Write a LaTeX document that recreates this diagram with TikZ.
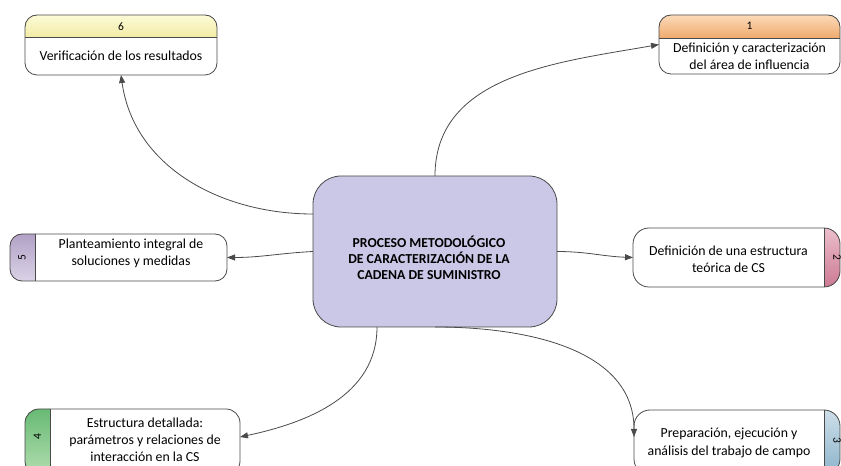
\documentclass[tikz,border=0pt]{standalone}
\usepackage{fontspec}
\setmainfont{Carlito}
\usetikzlibrary{calc,arrows.meta}

\definecolor{edge}{HTML}{4A4A4A}
\definecolor{hubfill}{RGB}{203,199,230}

\begin{document}
\begin{tikzpicture}[x=1pt,y=1pt,
  shell/.style={rectangle, inner sep=0pt, outer sep=0pt},
  outline/.style={draw=edge, line width=0.8pt},
  label/.style={align=center, font=\fontsize{13.8}{17.2}\selectfont, text=black},
  tag/.style={font=\fontsize{11.5}{13}\selectfont, text=black},
  conn/.style={draw=edge, line width=0.8pt, -{Triangle[length=8pt,width=6pt]}}
]
\useasboundingbox (0,0) rectangle (841,466);

% ---------- central node ----------
\node[shell, minimum width=244pt, minimum height=151pt] (c) at (435,214.5) {};
\draw[outline, fill=hubfill, rounded corners=28pt] (c.north west) rectangle (c.south east);
\node[align=center, font=\bfseries\fontsize{13.7}{15.8}\selectfont] at (429,208)
  {PROCESO METODOLÓGICO\\DE CARACTERIZACIÓN DE LA\\CADENA DE SUMINISTRO};

% ---------- step 6 (header on top) ----------
\node[shell, minimum width=192pt, minimum height=60pt] (b6) at (121,421) {};
\fill[white, rounded corners=12pt] (b6.north west) rectangle (b6.south east);
\begin{scope}
  \clip[rounded corners=12pt] (b6.north west) rectangle (b6.south east);
  \fill[top color={rgb,255:red,252;green,250;blue,215}, bottom color={rgb,255:red,242;green,236;blue,165}]
    (b6.north west) rectangle ($(b6.north east)+(0,-22)$);
\end{scope}
\draw[outline] ($(b6.north west)+(0,-22)$) -- ($(b6.north east)+(0,-22)$);
\draw[outline, rounded corners=12pt] (b6.north west) rectangle (b6.south east);
\node[tag] at (121,439) {6};
\node[label] at (121,410) {Verificación de los resultados};

% ---------- step 1 (header on top) ----------
\node[shell, minimum width=181pt, minimum height=59pt] (b1) at (749.5,421.5) {};
\fill[white, rounded corners=12pt] (b1.north west) rectangle (b1.south east);
\begin{scope}
  \clip[rounded corners=12pt] (b1.north west) rectangle (b1.south east);
  \fill[top color={rgb,255:red,251;green,218;blue,185}, bottom color={rgb,255:red,240;green,170;blue,110}]
    (b1.north west) rectangle ($(b1.north east)+(0,-23)$);
\end{scope}
\draw[outline] ($(b1.north west)+(0,-23)$) -- ($(b1.north east)+(0,-23)$);
\draw[outline, rounded corners=12pt] (b1.north west) rectangle (b1.south east);
\node[tag] at (749.5,440) {1};
\node[label] at (749.5,410) {Definición y caracterización\\del área de influencia};

% ---------- step 5 (band on the left) ----------
\node[shell, minimum width=217pt, minimum height=47pt] (b5) at (118.5,208.5) {};
\fill[white, rounded corners=12pt] (b5.north west) rectangle (b5.south east);
\begin{scope}
  \clip[rounded corners=12pt] (b5.north west) rectangle (b5.south east);
  \fill[top color={rgb,255:red,178;green,162;blue,198}, bottom color={rgb,255:red,218;green,210;blue,230}]
    (b5.north west) rectangle ($(b5.south west)+(25,0)$);
\end{scope}
\draw[outline] ($(b5.north west)+(25,0)$) -- ($(b5.south west)+(25,0)$);
\draw[outline, rounded corners=12pt] (b5.north west) rectangle (b5.south east);
\node[tag, rotate=90] at (22,208.5) {5};
\node[label] at (131,212.5) {Planteamiento integral de\\soluciones y medidas};

% ---------- step 2 (band on the right) ----------
\node[shell, minimum width=207pt, minimum height=59pt] (b2) at (736.5,208.5) {};
\fill[white, rounded corners=16pt] (b2.north west) rectangle (b2.south east);
\begin{scope}
  \clip[rounded corners=16pt] (b2.north west) rectangle (b2.south east);
  \fill[top color={rgb,255:red,236;green,190;blue,204}, bottom color={rgb,255:red,204;green,122;blue,148}]
    ($(b2.north east)+(-16,0)$) rectangle (b2.south east);
\end{scope}
\draw[outline] ($(b2.north east)+(-16,0)$) -- ($(b2.south east)+(-16,0)$);
\draw[outline, rounded corners=16pt] (b2.north west) rectangle (b2.south east);
\node[tag, rotate=-90] at (837,208.5) {2};
\node[label] at (728.5,206.5) {Definición de una estructura\\teórica de CS};

% ---------- step 4 (band on the left) ----------
\node[shell, minimum width=215pt, minimum height=66pt] (b4) at (132.5,24) {};
\fill[white, rounded corners=14pt] (b4.north west) rectangle (b4.south east);
\begin{scope}
  \clip[rounded corners=14pt] (b4.north west) rectangle (b4.south east);
  \fill[top color={rgb,255:red,104;green,186;blue,116}, bottom color={rgb,255:red,178;green,222;blue,176}]
    (b4.north west) rectangle ($(b4.south west)+(25,0)$);
\end{scope}
\draw[outline] ($(b4.north west)+(25,0)$) -- ($(b4.south west)+(25,0)$);
\draw[outline, rounded corners=14pt] (b4.north west) rectangle (b4.south east);
\node[tag, rotate=90] at (37.5,29) {4};
\node[label] at (145,26) {Estructura detallada:\\parámetros y relaciones de\\interacción en la CS};

% ---------- step 3 (band on the right) ----------
\node[shell, minimum width=206pt, minimum height=65pt] (b3) at (737,23.5) {};
\fill[white, rounded corners=16pt] (b3.north west) rectangle (b3.south east);
\begin{scope}
  \clip[rounded corners=16pt] (b3.north west) rectangle (b3.south east);
  \fill[top color={rgb,255:red,205;green,222;blue,232}, bottom color={rgb,255:red,140;green,180;blue,204}]
    ($(b3.north east)+(-16,0)$) rectangle (b3.south east);
\end{scope}
\draw[outline] ($(b3.north east)+(-16,0)$) -- ($(b3.south east)+(-16,0)$);
\draw[outline, rounded corners=16pt] (b3.north west) rectangle (b3.south east);
\node[tag, rotate=-90] at (837,26) {3};
\node[label] at (729,23) {Preparación, ejecución y\\análisis del trabajo de campo};

% ---------- connectors ----------
\draw[conn] (c.north) to[out=90, in=190] (b1.west);
\draw[conn] ($(c.north west)+(0,-38)$) to[out=180, in=-82] (b6.south);
\draw[conn] (c.west) to[out=183, in=0] (b5.east);
\draw[conn] (c.east) to[out=0, in=178] (b2.west);
\draw[conn] ($(c.south west)+(64,0)$) to[out=-90, in=12] ($(b4.east)+(0,5)$);
\draw[conn] (c.south) to[out=0, in=90] ($(b3.west)+(0,5.5)$);
\end{tikzpicture}
\end{document}
